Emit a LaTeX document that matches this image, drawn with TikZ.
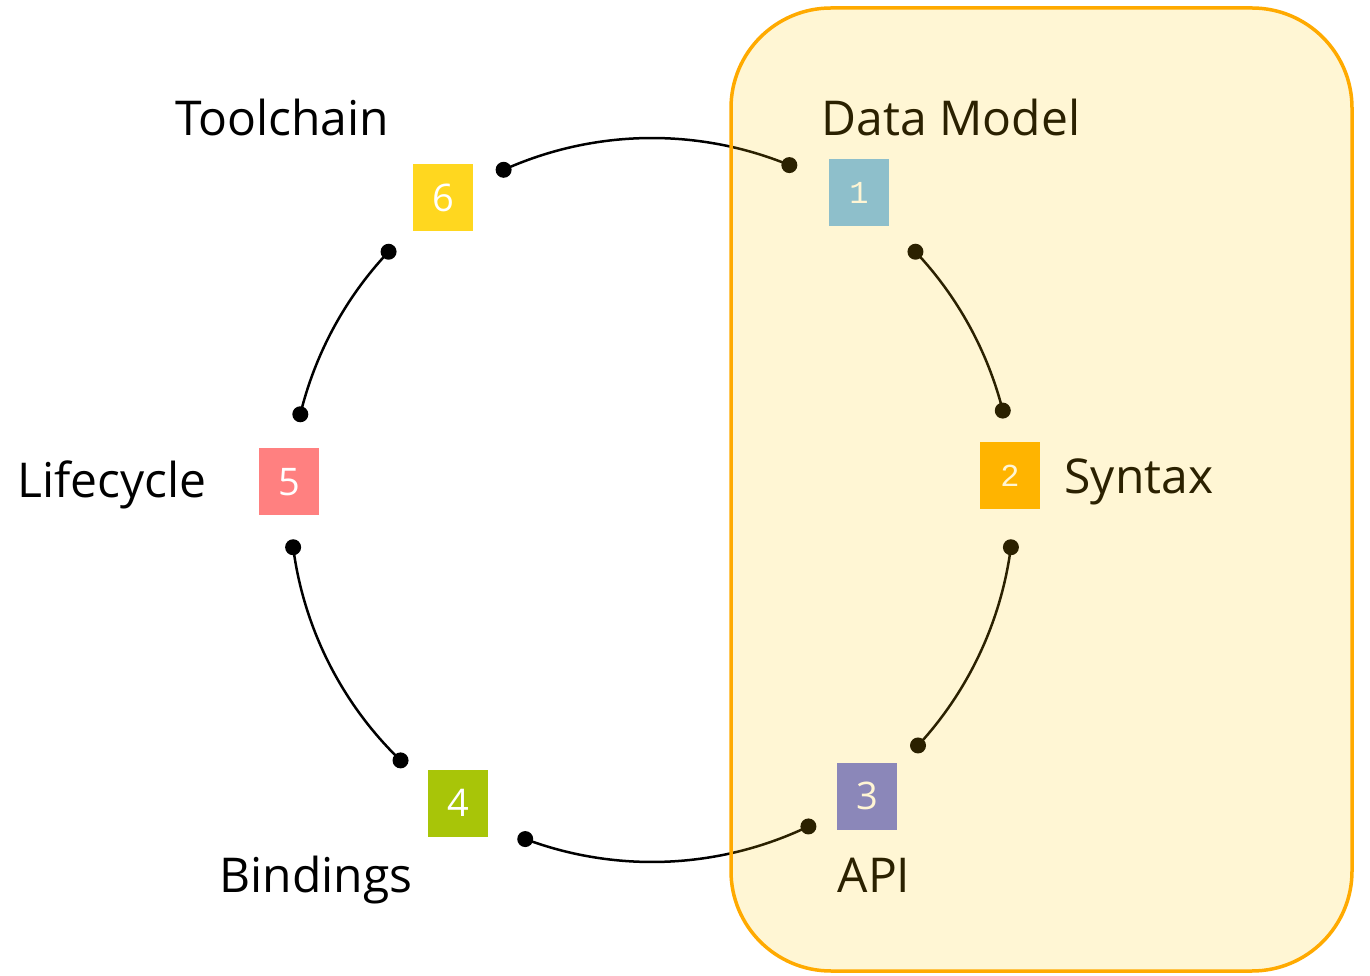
\documentclass[tikz,border=0pt]{standalone}
\usepackage{fontspec}
\setmainfont{Open Sans}
\newfontfamily\monofont{Liberation Mono}
\definecolor{cone}{RGB}{120,190,245}
\definecolor{ctwo}{RGB}{255,176,0}
\definecolor{cthree}{RGB}{116,122,223}
\definecolor{cfour}{RGB}{168,197,8}
\definecolor{cfive}{RGB}{255,128,128}
\definecolor{csix}{RGB}{255,215,31}
\definecolor{ovl}{RGB}{255,200,0}
\definecolor{bord}{RGB}{255,170,0}
\begin{document}
\begin{tikzpicture}[x=1pt,y=1pt,
  lbl/.style={font=\fontsize{48}{58}\selectfont, anchor=base, inner sep=0pt},
  numbox/.style={minimum width=60pt, minimum height=67pt, inner sep=0pt, text=white, font=\fontsize{38}{42}\selectfont},
  monobox/.style={numbox, font=\monofont\fontsize{32}{36}\selectfont},
  conn/.style={line width=2.5pt, black},
  dotmark/.style={fill=black}]
\useasboundingbox (0,0) rectangle (1370,975);
\coordinate (c) at (652,475);
\foreach \n/\a in {p1/43.3, q1/14.3, p2/-7.5, q2/-42.7, p3/-64.4, q3/-110.5, p4/-134, q4/-172.5, p5/166.3, q5/136.7, p6/114.2, q6/67.7}
  \coordinate (\n) at ([shift={(\a:362)}]c);
% connectors
\draw[conn] (p1) arc[start angle=43.3, end angle=14.3, radius=362];
\draw[conn] (p2) arc[start angle=-7.5, end angle=-42.7, radius=362];
\draw[conn] (p3) arc[start angle=-64.4, end angle=-110.5, radius=362];
\draw[conn] (p4) arc[start angle=-134, end angle=-172.5, radius=362];
\draw[conn] (p5) arc[start angle=166.3, end angle=136.7, radius=362];
\draw[conn] (p6) arc[start angle=114.2, end angle=67.7, radius=362];
\foreach \n in {p1,q1,p2,q2,p3,q3,p4,q4,p5,q5,p6,q6}
  \fill[dotmark] (\n) circle[radius=8];
% boxes
\node[monobox, fill=cone] (n1) at (859,782) {1};
\node[monobox, fill=ctwo] (n2) at (1010,499) {2};
\node[numbox, fill=cthree] (n3) at (867,179) {3};
\node[numbox, fill=cfour] (n4) at (458,172) {4};
\node[numbox, fill=cfive] (n5) at (289,493) {5};
\node[numbox, fill=csix] (n6) at (443,777) {6};
% labels
\node[lbl] (l6) at (282,839) {Toolchain};
\node[lbl] (l1) at (951,839) {Data Model};
\node[lbl] (l2) at (1139,481) {Syntax};
\node[lbl] (l5) at (112,477) {Lifecycle};
\node[lbl] (l4) at (316,83) {Bindings};
\node[lbl] (l3) at (874,83) {API};
% overlay
\draw[line width=3.5pt, draw=bord, fill=ovl, fill opacity=0.17, rounded corners=100pt] (731,4) rectangle (1352,967);
\end{tikzpicture}
\end{document}
